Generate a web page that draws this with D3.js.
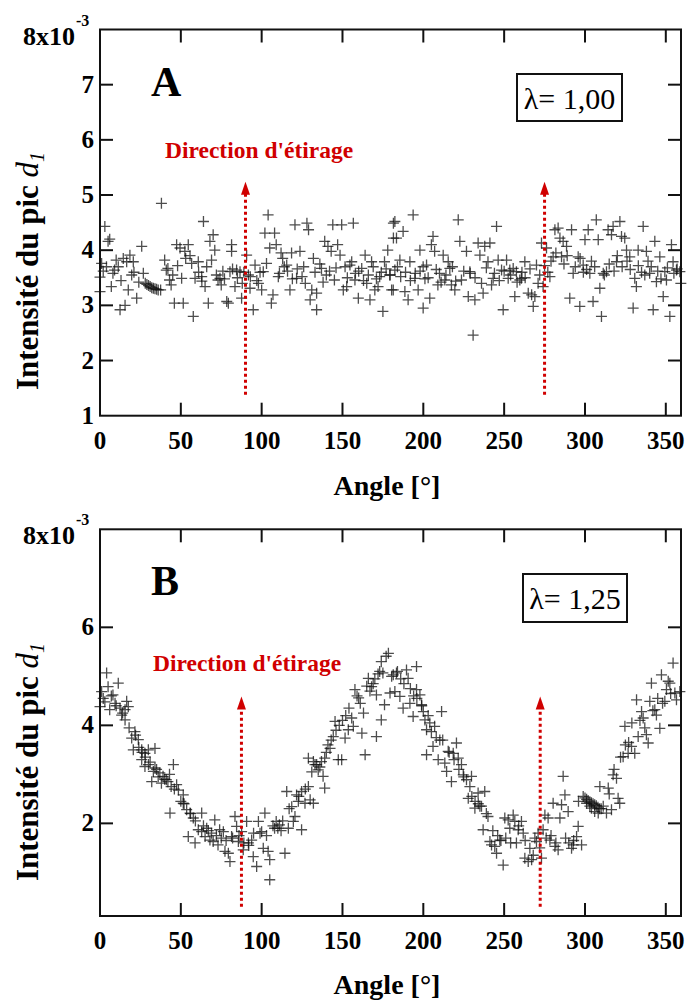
<!DOCTYPE html>
<html><head><meta charset="utf-8">
<script src="https://cdn.jsdelivr.net/npm/d3@7"></script>
<style>body{margin:0;background:#fff}svg{display:block}
svg text{font-family:"Liberation Serif","Times New Roman",Times,"DejaVu Serif",serif;}
</style>
</head><body>
<svg id="c" width="689" height="1005"></svg>
<script>
// ---------- DATA ----------
const xTicks = [50,100,150,200,250,300,350];
const xTickLabels = ["0","50","100","150","200","250","300","350"];
const xLabelValues = [0,50,100,150,200,250,300,350];
const yTicksA = [1,2,3,4,5,6,7];
const yTicksB = [2,4,6];
const panelLetters = ["A","B"];
const lambdaLabels = ["λ= 1,00","λ= 1,25"];
const arrowAnglesA = [90,275];
const arrowAnglesB = [87.5,272.3];
const arrowRangeA = [1.38,5.24];
const arrowRangeB = [0.30,4.59];

// Panel A (lambda = 1.00): angle, intensity (x10^-3)
const angleA = [0,0,1,3,5,6,7,9,10,11.3,12.4,14.4,15.5,16.5,17.5,18.5,19.6,20.6,22.7,25.8,26.8,
28,29,30,31,32,33,34,35,36,37.5,38,40,41,42,43,44,46,47.4,49.5,50.5,51.5,52.5,54.6,55.7,56.7,57.7,58.8,
60.8,62.9,64,65,67,68,69,70,71,73,74.2,75,78.4,79.4,80.4,81.4,81.4,83.5,84.5,86.6,87.6,90.7,91.8,92.8,
94.8,95.9,98,100,101,102,103,104,105,106,107,108,109,110.3,112,113,115.5,117.5,118.5,120.6,121.6,123.7,
126,127,128,129,130,131,132,134,134,137,139,141,143,144,145,147,148.5,149.5,150.5,151.6,152.6,154.6,
155.7,156.7,157.7,159.8,161.9,164,165,167,168,170,172,173,175,176,178,179.4,180.4,181.5,181.5,
182.4,183.4,179.3,181.4,182.4,185.5,187.5,188.6,190.6,191.7,193.7,194.8,196.8,197.9,199.9,199.9,202,204,
205,206,207,209,210,212.3,213.3,215.4,216.4,217.4,219.5,221.6,222.6,223.6,226.7,227.8,228.8,230.8,231.9,
233.9,235,237,238,240,241.2,242.2,243.2,245.3,246.3,248.4,249.4,251.5,252.5,253.5,255.6,256.6,257.6,
259.7,260.7,262.8,264.9,267,268,269,270,273.1,274.1,276.2,278.3,280.3,281.4,283.4,284.5,285.5,286.5,
288.6,290.6,291.7,292.7,295.8,296.8,298.9,300,302,303,305,307,308.2,309.2,310.2,311.3,313.3,314.3,316.4,
317.4,319.5,321.6,322.6,324.6,325.7,327.7,329.8,330.8,331.8,332.9,336,338,340,342.2,343.2,344.2,346.3,
348.4,349.4,350.4,352.5,353.5,354.5,356.6,358.7,359.3,
2,4,8,13,21,24,45,48,53,61,63,66,72,76,77,82,85,88,89,93,97,99,111,114,116,119,122,125,133,136,138,140,142,
146,153,158,160,163,166,169,171,174,177,184,186,189,192,195,198,201,203,208,211,214,218,220,225,229,232,
236,239,244,247,250,254,258,261,263,266,271,272,275,277,279,282,287,289,294,297,299,301,304,306,312,315,
318,320,323,326,328,333,335,337,339,341,345,347,351,355,357];
const valueA = [3.51,3.25,3.76,4.43,4.16,4.2,3.34,3.64,3.82,3.7,2.92,3.85,3.0,3.79,3.28,3.91,3.55,3.79,3.13,4.07,3.58,
3.40,3.38,3.36,3.34,3.32,3.31,3.30,3.29,3.28,3.28,4.85,3.82,3.64,3.67,3.46,3.37,3.04,4.1,4.04,3.49,3.04,3.98,4.1,3.9,3.76,2.8,3.49,
3.79,3.52,4.52,3.34,3.04,4.16,3.82,4.28,4.0,3.46,3.49,3.37,3.07,3.04,3.61,3.98,4.1,3.34,3.64,3.61,3.13,3.91,3.55,3.31,
2.92,3.73,3.40,3.28,3.61,4.31,3.76,4.64,4.04,3.04,3.19,4.31,4.1,3.52,3.95,3.85,3.73,3.28,3.95,4.46,3.49,3.98,
3.70,3.40,4.49,4.37,3.1,3.28,3.85,3.22,2.92,3.67,4.16,4.07,3.98,4.46,3.46,4.1,3.91,4.46,3.28,3.70,3.34,3.73,
3.79,4.49,3.46,3.13,3.67,3.91,3.40,3.1,3.79,3.28,3.34,3.52,2.89,3.79,4.0,3.55,3.28,4.49,4.22,
4.52,4.22,3.55,3.28,3.64,3.82,4.34,3.25,3.1,3.79,4.64,3.49,3.28,4.0,3.70,2.95,3.73,3.13,
4.1,4.25,3.98,3.37,3.58,3.91,3.46,3.79,3.67,3.37,3.28,4.55,4.16,3.46,3.98,3.16,3.61,2.46,3.1,
4.13,3.91,3.22,4.07,3.79,4.13,3.37,3.49,4.43,3.82,3.64,2.92,3.82,3.49,3.64,3.67,3.16,3.61,
3.46,3.49,3.79,3.22,3.19,2.98,3.16,3.73,4.13,3.34,4.04,3.52,3.88,4.37,4.4,4.22,3.88,4.16,
4.07,3.13,4.37,3.58,3.88,2.98,3.73,4.19,4.37,3.58,3.07,4.55,4.19,3.31,2.8,3.58,3.61,4.37,4.28,
4.43,3.79,4.52,4.25,4.22,4.0,3.88,2.95,3.49,3.34,4.0,4.43,3.98,3.58,2.92,4.16,3.43,3.88,
3.16,3.61,3.46,2.8,4.1,3.79,3.64,3.61,3.40,
3.62,3.70,3.58,3.45,3.60,3.42,3.55,3.72,3.85,3.60,3.44,3.70,3.55,3.62,3.48,3.66,3.50,3.40,3.60,3.52,3.45,3.60,3.58,3.70,3.62,3.48,3.66,3.52,3.60,3.75,3.42,3.55,3.62,
3.68,3.50,3.58,3.62,3.45,3.55,3.70,3.48,3.60,3.66,3.70,3.52,3.60,3.45,3.58,3.62,3.48,3.50,3.65,3.42,3.55,3.70,3.44,3.62,3.58,3.50,
3.40,3.68,3.58,3.45,3.62,3.55,3.42,3.60,3.50,3.66,3.40,3.55,3.72,3.60,3.80,3.95,3.75,3.90,3.70,3.85,3.60,3.65,3.80,3.70,3.55,3.75,
3.62,3.90,3.70,3.80,3.65,3.72,3.60,3.55,3.80,3.70,3.62,3.48,3.68,3.58,3.66];

// Panel B (lambda = 1.25): angle, intensity (x10^-3)
const angleB = [4.1,1,0,5,8,11.3,6,9.3,12.4,15.5,16.5,15.5,13.4,17.5,21.6,19.6,23.7,25.8,20.6,27.8,29.9,34,25.8,27.8,33,34,
37,39,43,45.4,32,38,41,47.4,48.5,51.5,51.5,43.3,53.6,55.7,57.7,62.9,54.6,58.8,60.8,62.9,66,65,68,71,70,73,74,76.3,77.3,
79.4,80.4,81.4,83.5,84.5,85.6,87.6,88.6,90.7,91.8,93.8,94.8,96.9,98,99,100,102,101,104,105,105,109,110,111,114.4,115.5,
116.5,118.6,119.6,120.6,121.6,122.7,124.7,124.7,126.8,128.9,130,132,128.9,132,134,135,138,139,137,139,142.3,144.3,145.4,
147.4,149.5,151.6,153.6,155.7,156.7,157.7,160,162,163,164,166,168,171,171,173,174,175,176,177,178.4,179.4,180.4,174,
181.4,183.4,182.4,185.5,187.5,189.6,190.6,191.7,193.7,195.8,195.8,197.9,198.9,200,201,202,205,207,211.3,206,202,210.2,
209.2,213.3,214.4,217.4,215.4,218.5,220.5,221.6,223.6,224.7,226.7,228.8,229.8,227.8,231.9,233.9,236,238,237,240,241.2,
242.2,244.2,245.3,247.3,249.4,250.4,252.5,253.5,255.6,256.6,257.6,258.7,260.7,261.8,262.8,264.9,265.9,267,269,270,271,
273.1,274.1,275.2,277.2,278.3,280.3,281.4,283.4,284.5,285.5,286.5,287.6,289.6,291.7,292.7,294.8,295.8,297.9,298.9,301,
303,304,306,308.2,309.2,311.3,313.3,314.4,316.4,317.4,319.5,320.5,321.5,323.6,324.7,326.7,328.8,330.8,331.9,332.9,335,
336,338,339.1,340.1,341.1,343.2,344.2,346.3,347.3,349.4,350.4,351.5,352.5,354.5,355.6,356.6,358.7,
300,301,302,303,304,305,306,307,308,309,
2,3,7,10,14,18,22,24,26,28,30,31,35,36,40,42,44,46,50,52,56,59,64,67,69,72,75,78,82,86,89,92,95,103,107,108,112,113,117,
123,127,131,133,136,140,141,143,146,148,150,152,154,159,161,165,167,169,170,172,184,186,188,192,194,196,199,203,204,208,
212,216,219,222,225,230,232,234,235,239,243,246,248,251,254,259,263,268,272,276,279,282,288,290,293,296,310,315,318,322,
325,327,329,334,337,342,345,348,353,357];
const valueB = [5.07,4.69,4.38,4.79,4.62,4.86,4.32,4.45,4.35,4.32,4.49,4.11,4.21,4.38,3.87,3.74,3.71,3.50,3.5,3.43,3.5,3.53,3.30,3.16,3.06,3.13,
3.03,2.96,3.0,3.2,2.85,2.82,2.89,2.79,2.68,2.58,2.41,2.21,2.28,2.21,2.11,2.21,1.73,1.6,1.87,1.83,1.9,1.73,1.66,2.07,1.63,1.56,1.87,1.83,1.43,
1.39,1.22,1.73,2.14,1.94,1.63,1.83,1.46,2.04,1.6,1.66,1.32,1.12,2.04,1.8,1.83,2.21,1.49,1.43,1.26,0.85,2.04,1.9,1.97,1.39,2.65,
1.9,2.34,2.04,2.14,2.58,2.45,1.87,2.65,2.41,2.75,2.48,2.41,3.33,3.26,3.2,3.09,2.96,2.72,3.26,3.33,3.53,3.77,4.08,
3.3,3.3,3.74,3.91,4.15,3.98,4.73,4.56,3.84,4.25,3.4,4.96,4.79,4.62,3.77,5.1,4.11,5.07,4.42,5.41,5.47,4.66,5.0,5.3,
5.03,5.07,4.69,4.59,4.35,5.13,4.96,4.45,4.18,5.2,4.73,4.62,4.42,4.28,4.11,3.91,3.87,3.98,4.28,3.57,3.4,3.7,
3.3,3.23,3.06,2.85,3.47,3.43,3.64,3.33,3.2,2.99,2.89,2.75,2.96,2.51,2.31,2.62,2.35,2.65,1.87,2.14,1.63,
1.56,1.53,1.39,1.66,1.15,2.11,2.07,1.9,2.17,2.04,1.6,1.87,2.04,1.8,1.29,1.22,1.49,1.26,1.7,1.63,1.8,
1.29,1.87,2.17,2.11,1.66,2.41,1.53,1.46,2.11,2.38,2.96,2.58,2.24,1.49,1.56,1.73,1.94,1.56,2.55,2.41,
2.35,2.31,2.24,2.21,2.75,2.35,2.21,2.72,2.28,2.99,2.92,2.51,2.41,3.36,3.98,3.43,3.57,3.43,4.52,3.77,4.28,
4.15,3.81,3.64,4.49,4.86,4.32,4.21,3.94,5.03,4.49,4.73,4.9,4.86,5.27,4.66,4.52,4.69,
2.52,2.49,2.46,2.44,2.42,2.40,2.38,2.36,2.33,2.30,
4.55,4.48,4.60,4.40,4.25,3.95,3.80,3.55,3.45,3.35,3.20,3.25,3.10,2.95,2.90,2.85,2.75,2.70,2.45,2.40,2.20,2.05,1.95,1.85,1.80,1.75,1.70,1.65,1.70,1.75,1.60,1.55,1.80,
1.75,1.95,1.90,1.85,2.05,2.30,2.55,2.70,3.05,3.20,3.15,3.45,3.60,3.70,3.90,4.00,4.10,4.20,4.35,4.60,4.45,4.80,4.70,4.85,4.95,5.05,
5.10,4.95,4.85,4.75,4.60,4.55,4.40,4.20,4.05,3.75,3.70,3.45,3.30,3.10,2.95,2.55,2.45,2.40,2.35,2.20,1.85,1.75,1.65,1.70,1.60,1.95,1.65,
1.35,1.50,1.70,1.75,1.60,1.70,1.60,1.65,2.45,2.30,2.60,3.10,3.35,3.60,3.65,4.05,4.10,3.95,4.30,4.55,4.45,4.65];

// ---------- DRAW ----------
const svg = d3.select("#c");
const red = "#d00000";

function drawPanel(cfg){
  const g = svg.append("g");
  const x = d3.scaleLinear().domain([0,359.4]).range([100,681]);
  const y = d3.scaleLinear().domain(cfg.yDomain).range(cfg.yRange);
  const [top,bottom] = [cfg.yRange[1], cfg.yRange[0]];
  const L = 13;

  // points
  const mark = g.append("g").attr("stroke","#111").attr("stroke-opacity",0.75).attr("stroke-width",1.3).attr("fill","none");
  cfg.angles.forEach((a,i)=>{
    const cx = x(a), cy = y(cfg.values[i]);
    mark.append("path").attr("d",`M${cx-5.5},${cy}H${cx+5.5}M${cx},${cy-5.5}V${cy+5.5}`);
  });

  // arrows
  cfg.arrows.forEach(a=>{
    const ax = x(a);
    g.append("line").attr("x1",ax).attr("x2",ax)
      .attr("y1",y(cfg.arrowRange[0])).attr("y2",y(cfg.arrowRange[1])+10)
      .attr("stroke",red).attr("stroke-width",3).attr("stroke-dasharray","3,3");
    const ty = y(cfg.arrowRange[1]);
    g.append("path").attr("d",`M${ax},${ty}L${ax-4.5},${ty+13}L${ax+4.5},${ty+13}Z`).attr("fill",red);
  });

  // frame
  g.append("rect").attr("x",100).attr("y",top).attr("width",581).attr("height",bottom-top)
    .attr("fill","none").attr("stroke","#111").attr("stroke-width",2);

  // ticks (inward, all four sides)
  const tk = g.append("g").attr("stroke","#111").attr("stroke-width",2);
  xTicks.forEach(t=>{
    tk.append("line").attr("x1",x(t)).attr("x2",x(t)).attr("y1",bottom).attr("y2",bottom-L);
    tk.append("line").attr("x1",x(t)).attr("x2",x(t)).attr("y1",top).attr("y2",top+L);
  });
  cfg.yTicks.forEach(t=>{
    if (y(t) >= bottom-1) return;
    tk.append("line").attr("x1",100).attr("x2",100+L).attr("y1",y(t)).attr("y2",y(t));
    tk.append("line").attr("x1",681).attr("x2",681-L).attr("y1",y(t)).attr("y2",y(t));
  });

  // tick labels
  xLabelValues.forEach((v,i)=>{
    g.append("text").attr("x",x(v)).attr("y",cfg.xLabelY).attr("text-anchor","middle")
      .attr("font-weight","bold").attr("font-size",25).text(xTickLabels[i]);
  });
  cfg.yTicks.forEach(t=>{
    g.append("text").attr("x",94).attr("y",y(t)+8).attr("text-anchor","end")
      .attr("font-weight","bold").attr("font-size",25).text(String(t));
  });
  g.append("text").attr("x",75).attr("y",top+15).attr("text-anchor","end")
      .attr("font-weight","bold").attr("font-size",26).text("8x10");
  g.append("text").attr("x",76).attr("y",top-4)
      .attr("font-weight","bold").attr("font-size",16).text("-3");

  // axis titles
  g.append("text").attr("x",387).attr("y",cfg.xTitleY).attr("text-anchor","middle")
    .attr("font-weight","bold").attr("font-size",28).text("Angle [°]");
  const yt = g.append("text").attr("transform",`translate(38,${cfg.yTitleY}) rotate(-90)`)
    .attr("text-anchor","middle").attr("font-size",31);
  yt.append("tspan").attr("font-weight","bold").text("Intensité du pic ");
  yt.append("tspan").attr("font-style","italic").text("d");
  yt.append("tspan").attr("font-style","italic").attr("font-size",20).attr("dy",6).text("1");

  // panel letter
  g.append("text").attr("x",151).attr("y",top+66).attr("font-weight","bold")
    .attr("font-size",42).text(cfg.letter);
  // direction label
  g.append("text").attr("x",cfg.dirX).attr("y",cfg.dirY).attr("font-weight","bold")
    .attr("font-size",23.5).attr("fill",red).text("Direction d'étirage");
  // lambda box
  g.append("rect").attr("x",cfg.box[0]).attr("y",cfg.box[1]).attr("width",cfg.box[2]).attr("height",cfg.box[3])
    .attr("fill","#fff").attr("stroke","#111").attr("stroke-width",2);
  g.append("text").attr("x",cfg.box[0]+cfg.box[2]/2).attr("y",cfg.box[1]+35).attr("text-anchor","middle")
    .attr("font-size",30).text(cfg.lambda);
}

drawPanel({angles:angleA, values:valueA, yDomain:[1,8], yRange:[415.7,29.5], yTicks:yTicksA,
  arrows:arrowAnglesA, arrowRange:arrowRangeA, xLabelY:449, xTitleY:495, yTitleY:271,
  letter:panelLetters[0], dirX:165, dirY:158, box:[517,74,105,47], lambda:lambdaLabels[0]});
drawPanel({angles:angleB, values:valueB, yDomain:[0.11,8], yRange:[916,529.3], yTicks:yTicksB,
  arrows:arrowAnglesB, arrowRange:arrowRangeB, xLabelY:949, xTitleY:994, yTitleY:762,
  letter:panelLetters[1], dirX:153, dirY:671, box:[523,574,104,48], lambda:lambdaLabels[1]});
</script>
</body></html>
